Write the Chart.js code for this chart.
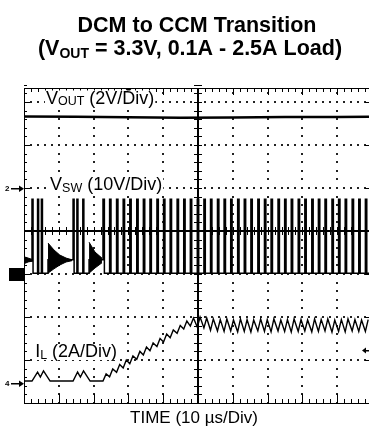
<!DOCTYPE html>
<html><head><meta charset="utf-8">
<script src="https://cdn.jsdelivr.net/npm/chart.js@4.4.1/dist/chart.umd.min.js"></script>
<style>html,body{margin:0;padding:0;background:#fff;overflow:hidden}</style>
</head><body>
<canvas id="c" width="369" height="426"></canvas>
<script>
// ---------------- DATA ----------------
// time axis: 10 µs per division, visible window in µs
const timeWindow = [0, 99.14];
// vertical axis in graticule divisions (centre = 0)
const divWindow = [-4, 3.3256];
const triggerTime = [30];
const triggerLevelDiv = [-2.77];

// channel grounds (divisions) and scales (units per division)
const ch2Vout = [1.0, 2];     // ground div, V/div
const ch1Vsw  = [-1.0, 10];   // ground div, V/div
const ch4IL   = [-3.535, 2];  // ground div, A/div

// V_OUT (V)
const voutTime  = [0, 15, 30, 45, 60, 75, 90, 99.14];
const voutVolts = [3.32, 3.31, 3.29, 3.27, 3.28, 3.30, 3.30, 3.31];

// V_SW DCM section: switching edges (µs) and level after edge (V)
const dcmEdgeTime  = [0, 2.3, 2.6, 3.9, 4.2, 5.0, 5.3, 6.9, 14.1, 14.4, 15.2, 15.5, 16.9, 17.2, 18.7];
const dcmEdgeVolts = [3.0, 17.4, 0.2, 17.4, 0.2, 17.4, 0.2, 3.3, 17.4, 0.2, 17.4, 0.2, 17.4, 0.2, 3.3];
const vswHigh = [17.4];
const vswLow  = [0.2];

// V_SW DCM ringing envelopes (µs, V)
const ring0Time = [0, 1.2, 2.3];          const ring0Upper = [4.0, 3.7, 3.4]; const ring0Lower = [2.4, 2.8, 3.0];
const ring1Time = [6.9, 8.6, 10.3, 12.1, 13.8]; const ring1Upper = [7.2, 5.6, 4.4, 3.7, 3.3]; const ring1Lower = [0.2, 1.2, 2.1, 2.8, 3.1];
const ring2Time = [18.7, 20.4, 22.4];     const ring2Upper = [7.4, 5.1, 3.7]; const ring2Lower = [0.2, 1.4, 2.6];

// CCM switching: rising and falling edge times (µs)
const ccmRise = [22.7, 24.6, 26.6, 28.5, 30.4, 32.4, 34.3, 36.2, 38.2, 40.1, 42.0, 44.0, 45.9, 47.8, 49.8, 51.7, 53.6, 55.6, 57.5, 59.4, 61.4, 63.3, 65.2, 67.2, 69.1, 71.0, 73.0, 74.9, 76.8, 78.8, 80.7, 82.7, 84.6, 86.5, 88.5, 90.4, 92.3, 94.3, 96.2, 98.1];
const ccmFall = [23.1, 25.0, 27.0, 28.9, 30.8, 32.8, 34.7, 36.6, 38.6, 40.5, 42.4, 44.4, 46.3, 48.2, 50.2, 52.1, 54.0, 56.0, 57.9, 59.8, 61.8, 63.7, 65.6, 67.6, 69.5, 71.4, 73.4, 75.3, 77.2, 79.2, 81.1, 83.1, 85.0, 86.9, 88.9, 90.8, 92.7, 94.7, 96.6, 98.5];

// I_L (A): DCM section, then valley at each rising edge / peak once per cycle
const ilDcmTime = [0, 2.3, 3.9, 4.7, 5.6, 7.5, 14.1, 15.4, 16.2, 17.1, 19.0];
const ilDcmAmps = [0.09, 0.09, 0.51, 0.28, 0.56, 0.09, 0.09, 0.51, 0.28, 0.56, 0.09];
const ilValley = [0.09, 0.29, 0.50, 0.70, 0.90, 1.10, 1.30, 1.50, 1.70, 1.91, 2.11, 2.31, 2.51, 2.65, 2.60, 2.56, 2.45, 2.42, 2.40, 2.42, 2.38, 2.40, 2.37, 2.42, 2.40, 2.38, 2.42, 2.40, 2.37, 2.40, 2.42, 2.38, 2.40, 2.42, 2.37, 2.40, 2.38, 2.42, 2.40, 2.40];
const ilPeakTime = [23.6, 25.5, 27.5, 29.4, 31.3, 33.3, 35.2, 37.1, 39.1, 41.0, 42.9, 44.9, 46.8, 48.7, 50.6, 52.5, 54.4, 56.4, 58.3, 60.2, 62.2, 64.1, 66.0, 68.0, 69.9, 71.8, 73.8, 75.7, 77.6, 79.6, 81.5, 83.5, 85.4, 87.3, 89.3, 91.2, 93.1, 95.1, 97.0, 98.9];
const ilPeak   = [0.42, 0.65, 0.86, 1.07, 1.26, 1.47, 1.67, 1.86, 2.07, 2.28, 2.47, 2.67, 2.88, 3.02, 3.07, 3.02, 2.98, 2.95, 2.98, 2.93, 2.98, 2.95, 2.93, 2.98, 2.95, 2.98, 2.93, 2.95, 2.98, 2.95, 2.93, 2.98, 2.95, 2.98, 2.93, 2.95, 2.98, 2.95, 2.93, 2.95];

// texts
const titleLine1 = 'DCM to CCM Transition';
const titleLine2 = ['(V', 'OUT', ' = 3.3V, 0.1A - 2.5A Load)'];
const xAxisTitle = 'TIME (10 \u00B5s/Div)';
const labelVout = ['V', 'OUT', ' (2V/Div)'];
const labelVsw  = ['V', 'SW', ' (10V/Div)'];
const labelIL   = ['I', 'L', ' (2A/Div)'];

// ---------------- build datasets ----------------
const toDiv = (ch, v) => ch[0] + v / ch[1];
const pts = (ts, vs, ch) => ts.map((t, i) => ({x: t, y: toDiv(ch, vs[i])}));

const vswStepPts = pts(dcmEdgeTime, dcmEdgeVolts, ch1Vsw);
ccmRise.forEach((t, i) => {
  vswStepPts.push({x: t, y: toDiv(ch1Vsw, vswHigh[0])});
  vswStepPts.push({x: ccmFall[i], y: toDiv(ch1Vsw, vswLow[0])});
});
vswStepPts.push({x: timeWindow[1], y: toDiv(ch1Vsw, vswLow[0])});

const ilPts = pts(ilDcmTime, ilDcmAmps, ch4IL);
ccmRise.forEach((t, i) => {
  ilPts.push({x: t, y: toDiv(ch4IL, ilValley[i])});
  ilPts.push({x: ilPeakTime[i], y: toDiv(ch4IL, ilPeak[i])});
});

const K = '#000';
const trace = (data, w, extra) => Object.assign({data, borderColor: K, backgroundColor: K, borderWidth: w, pointRadius: 0, fill: false, tension: 0}, extra || {});
const datasets = [
  trace(pts(voutTime, voutVolts, ch2Vout), 2.5),
  trace(ilPts, 1.4),
  trace(vswStepPts, 1.5, {stepped: 'before'}),
  trace(pts(ring0Time, ring0Upper, ch1Vsw), 1, {fill: '+1'}),
  trace(pts(ring0Time, ring0Lower, ch1Vsw), 1),
  trace(pts(ring1Time, ring1Upper, ch1Vsw), 1, {fill: '+1'}),
  trace(pts(ring1Time, ring1Lower, ch1Vsw), 1),
  trace(pts(ring2Time, ring2Upper, ch1Vsw), 1, {fill: '+1'}),
  trace(pts(ring2Time, ring2Lower, ch1Vsw), 1)
];

// ---------------- graticule + texts ----------------
const FONT = '"Liberation Sans", Arial, Helvetica, sans-serif';
function drawRich(ctx, parts, x, y, align) {
  let w = 0;
  parts.forEach(p => { ctx.font = p.font; p.w = ctx.measureText(p.text).width; w += p.w; });
  let cx = align === 'center' ? x - w / 2 : x;
  const x0 = cx;
  parts.forEach(p => { ctx.font = p.font; ctx.fillText(p.text, cx, y + (p.dy || 0)); cx += p.w; });
  return {x0, w};
}

const graticule = {
  id: 'graticule',
  beforeDatasetsDraw(chart) {
    const {ctx, chartArea: a, scales: {x, y}} = chart;
    ctx.save();
    const xl = Math.round(x.getPixelForValue(0));
    const xr = Math.round(x.getPixelForValue(100));
    const xc = Math.round(x.getPixelForValue(50));
    const yb = Math.round(y.getPixelForValue(-4));
    const yc = Math.round(y.getPixelForValue(0));
    const yt = Math.round(a.top);
    // dotted graticule: dots at every minor step along each major line
    ctx.fillStyle = '#222';
    for (let m = 1; m <= 9; m++) {
      if (m === 5) continue;
      const px = Math.round(x.getPixelForValue(m * 10));
      for (let k = -20; k <= 16; k++) {
        const py = Math.round(y.getPixelForValue(k * 0.2));
        if (py <= yt + 1) continue;
        ctx.fillRect(px - 1, py - 1, 2, 2);
      }
    }
    for (let m = -3; m <= 3; m++) {
      if (m === 0) continue;
      const py = Math.round(y.getPixelForValue(m));
      for (let k = 1; k <= 50; k++) {
        const px = Math.round(x.getPixelForValue(k * 2));
        ctx.fillRect(px - 1, py - 1, 2, 2);
      }
    }
    ctx.fillStyle = K;
    // borders
    ctx.fillRect(xl, yt, 1, yb - yt + 1);
    ctx.fillRect(xl, yb, xr - xl, 1);
    ctx.fillRect(xl, yt, xr - xl, 1);
    ctx.fillRect(xr, yt, 1, yb - yt + 1);
    // centre axes
    ctx.fillRect(xc - 1, yt, 2, yb - yt + 1);
    ctx.fillRect(xl, yc - 1, xr - xl, 2);
    // minor ticks along time
    for (let k = 0; k <= 50; k++) {
      const px = Math.round(x.getPixelForValue(k * 2));
      const major = k % 5 === 0;
      ctx.fillRect(px, yb - (major ? 9 : 4), 1, major ? 9 : 4);
      ctx.fillRect(px, yt, 1, major ? 7 : 4);
      ctx.fillRect(px, yc - 4, 1, 8);
    }
    // minor ticks along vertical
    for (let k = -20; k <= 17; k++) {
      const py = Math.round(y.getPixelForValue(k * 0.2));
      const major = k % 5 === 0;
      ctx.fillRect(xl, py, major ? 6 : 3, 1);
      ctx.fillRect(xr - (major ? 7 : 3), py, major ? 7 : 3, 1);
      ctx.fillRect(xc - 4, py, 8, 1);
    }
    // trigger position marker (top)
    const tx = Math.round(x.getPixelForValue(triggerTime[0]));
    ctx.beginPath(); ctx.moveTo(tx - 3, yt); ctx.lineTo(tx + 4, yt); ctx.lineTo(tx + 0.5, yt + 5); ctx.closePath(); ctx.fill();
    // trigger level marker (right)
    const ty = Math.round(y.getPixelForValue(triggerLevelDiv[0])) + 0.5;
    ctx.beginPath(); ctx.moveTo(362, ty); ctx.lineTo(366, ty - 3); ctx.lineTo(366, ty + 3); ctx.closePath(); ctx.fill();
    ctx.fillRect(365, ty - 0.5, 5, 1.5);
    // channel ground markers (left)
    const g2 = Math.round(y.getPixelForValue(ch2Vout[0]));
    const g1 = Math.round(y.getPixelForValue(ch1Vsw[0]));
    const g4 = Math.round(y.getPixelForValue(ch4IL[0]));
    ctx.fillRect(9, g1 - 6, 15, 13);
    [[g2, '2'], [g4, '4']].forEach(([gy, lab]) => {
      ctx.fillRect(11, gy, 10, 1.5);
      ctx.beginPath(); ctx.moveTo(24, gy + 0.75); ctx.lineTo(19, gy - 2.5); ctx.lineTo(19, gy + 4); ctx.closePath(); ctx.fill();
      ctx.font = 'bold 8px ' + FONT; ctx.textBaseline = 'middle'; ctx.textAlign = 'left';
      ctx.fillText(lab, 5, gy + 1);
    });
    ctx.restore();
  },
  afterDatasetsDraw(chart) {
    const {ctx, scales: {x, y}} = chart;
    ctx.save();
    ctx.fillStyle = K; ctx.textBaseline = 'alphabetic'; ctx.textAlign = 'left';
    const lab = (parts, t, yPx) => {
      const big = '18px ' + FONT, small = '12.5px ' + FONT;
      const p = [{text: parts[0], font: big}, {text: parts[1], font: small, dy: 1.5}, {text: parts[2], font: big}];
      const px = x.getPixelForValue(t);
      let w = 0; p.forEach(q => { ctx.font = q.font; w += ctx.measureText(q.text).width; });
      ctx.fillStyle = '#fff'; ctx.fillRect(px - 1, yPx - 13, w + 2, 16);
      ctx.fillStyle = K;
      drawRich(ctx, p, px, yPx, 'left');
    };
    lab(labelVout, 6.3, 103.5);
    lab(labelVsw, 7.5, 190);
    lab(labelIL, 3.2, 357);
    ctx.restore();
  },
  afterDraw(chart) {
    const {ctx} = chart;
    ctx.save();
    ctx.fillStyle = K; ctx.textBaseline = 'alphabetic'; ctx.textAlign = 'left';
    drawRich(ctx, [{text: titleLine1, font: 'bold 21.5px ' + FONT}], 197, 32, 'center');
    drawRich(ctx, [
      {text: titleLine2[0], font: 'bold 21.5px ' + FONT},
      {text: titleLine2[1], font: 'bold 14px ' + FONT, dy: 3},
      {text: titleLine2[2], font: 'bold 21.5px ' + FONT}
    ], 190, 55, 'center');
    drawRich(ctx, [{text: xAxisTitle, font: '17px ' + FONT}], 194, 423, 'center');
    ctx.restore();
  }
};

new Chart(document.getElementById('c'), {
  type: 'line',
  data: {datasets},
  options: {
    responsive: false, animation: false, devicePixelRatio: 1,
    layout: {padding: {left: 24, top: 88, right: 0, bottom: 23}},
    plugins: {legend: {display: false}, tooltip: {enabled: false}, title: {display: false}},
    elements: {point: {radius: 0}},
    scales: {
      x: {type: 'linear', min: timeWindow[0], max: timeWindow[1],
          ticks: {display: false, stepSize: 10, includeBounds: false},
          grid: {display: false, drawTicks: false},
          border: {display: false}},
      y: {type: 'linear', min: divWindow[0], max: divWindow[1],
          ticks: {display: false, stepSize: 1, includeBounds: false},
          grid: {display: false, drawTicks: false},
          border: {display: false}}
    }
  },
  plugins: [graticule]
});
</script>
</body></html>
